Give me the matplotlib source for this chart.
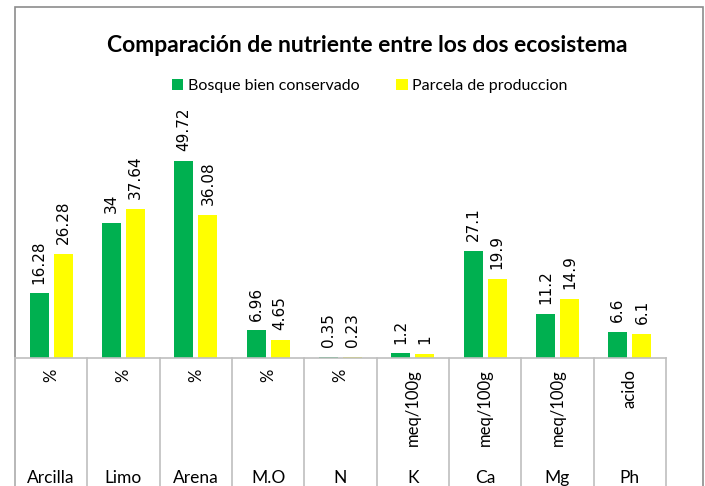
import matplotlib
matplotlib.use('Agg')
import matplotlib.pyplot as plt
import numpy as np
from matplotlib.patches import Rectangle
from matplotlib.lines import Line2D

# data
categories = ['Arcilla', 'Limo', 'Arena', 'M.O', 'N', 'K', 'Ca', 'Mg', 'Ph']
units = ['%', '%', '%', '%', '%', 'meq/100g', 'meq/100g', 'meq/100g', 'acido']
bosque = [16.28, 34, 49.72, 6.96, 0.35, 1.2, 27.1, 11.2, 6.6]
parcela = [26.28, 37.64, 36.08, 4.65, 0.23, 1, 19.9, 14.9, 6.1]
bosque_lbl = ['16.28', '34', '49.72', '6.96', '0.35', '1.2', '27.1', '11.2', '6.6']
parcela_lbl = ['26.28', '37.64', '36.08', '4.65', '0.23', '1', '19.9', '14.9', '6.1']

green = '#00B050'
yellow = '#FFFF00'
grid_col = '#BFBFBF'
W, H = 705, 486

fig = plt.figure(figsize=(W/100, H/100), dpi=100)

# chart border
fig.add_artist(Rectangle((15/W, -0.05), (703-15)/W, 1.05-7/H, transform=fig.transFigure,
                         fill=False, edgecolor='#8C8C8C', linewidth=1.2))

# plot area
x0, x1 = 15, 666
ytop, ybase = 120, 358
ax = fig.add_axes([x0/W, 1-ybase/H, (x1-x0)/W, (ybase-ytop)/H])
ax.set_xlim(0, len(categories))
ax.set_ylim(0, 60)
ax.axis('off')

x = np.arange(len(categories)) + 0.5
bw = 19/72
off = 12/72
ax.bar(x-off, bosque, width=bw, color=green, label='Bosque bien conservado')
ax.bar(x+off, parcela, width=bw, color=yellow, label='Parcela de produccion')

for xi, v, t in zip(x-off, bosque, bosque_lbl):
    ax.annotate(t, (xi, v), xytext=(0, 7), textcoords='offset points', rotation=90,
                ha='center', va='bottom', fontsize=11, family='DejaVu Sans')
for xi, v, t in zip(x+off, parcela, parcela_lbl):
    ax.annotate(t, (xi, v), xytext=(0, 7), textcoords='offset points', rotation=90,
                ha='center', va='bottom', fontsize=11, family='DejaVu Sans')

# category axis (two levels)
fig.add_artist(Line2D([x0/W, x1/W], [1-ybase/H]*2, color=grid_col, lw=1.2, transform=fig.transFigure))
step = (x1-x0)/len(categories)
for i in range(len(categories)+1):
    xp = (x0 + i*step)/W
    fig.add_artist(Line2D([xp, xp], [1-ybase/H, 0], color=grid_col, lw=1.2, transform=fig.transFigure))
for i, (c, u) in enumerate(zip(categories, units)):
    xc = (x0 + (i+0.5)*step)/W
    fig.text(xc, 1-369/H, u, rotation=90, ha='center', va='top', fontsize=12, family='Lato')
    fig.text(xc, 1-483/H, c, ha='center', va='baseline', fontsize=12.5, family='Lato')

# title and legend
fig.text(367/W, 1-45/H, 'Comparación de nutriente entre los dos ecosistema', ha='center', va='center',
         fontsize=16.5, fontweight='bold', family='Lato')
fig.legend(loc='center', bbox_to_anchor=(370/W, 1-86/H), ncol=2, frameon=False,
           prop={'family': 'Lato', 'size': 11.5}, handlelength=0.7, handleheight=0.7,
           handletextpad=0.3, columnspacing=2.3)

fig.savefig('out.png', dpi=100)
